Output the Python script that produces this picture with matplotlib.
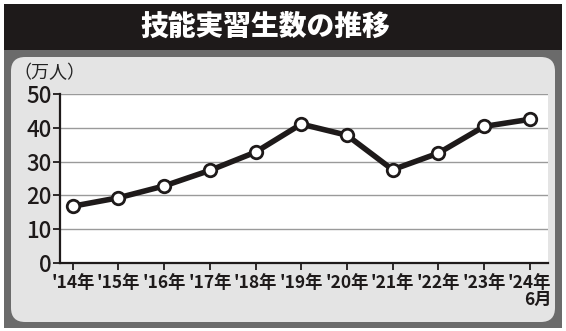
import matplotlib
matplotlib.use("Agg")
import matplotlib.pyplot as plt
from matplotlib.patches import Rectangle, FancyBboxPatch

plt.rcParams['font.family'] = ['Noto Sans CJK JP', 'DejaVu Sans']

# データ
years = ["'14年", "'15年", "'16年", "'17年", "'18年", "'19年",
         "'20年", "'21年", "'22年", "'23年", "'24年\n6月"]
values = [16.8, 19.3, 22.8, 27.4, 32.8, 41.1, 37.8, 27.6, 32.5, 40.4, 42.5]
yticks = [0, 10, 20, 30, 40, 50]

W, H = 566, 331
fig = plt.figure(figsize=(W / 100, H / 100), dpi=100)
fig.patch.set_facecolor('white')


def box(x0, y0, x1, y1):
    # pixel coords (top-left origin) -> figure fraction
    return x0 / W, 1 - y1 / H, (x1 - x0) / W, (y1 - y0) / H


# 外枠
x, y, w, h = box(4, 4, 562, 328)
fig.add_artist(Rectangle((x, y), w, h, transform=fig.transFigure,
                         facecolor='#6b6b6b', edgecolor='none', zorder=0))
x, y, w, h = box(4, 4, 562, 50)
fig.add_artist(Rectangle((x, y), w, h, transform=fig.transFigure,
                         facecolor='#1e1a1a', edgecolor='none', zorder=1))
x, y, w, h = box(11, 57, 555, 322)
fig.add_artist(FancyBboxPatch((x, y), w, h, transform=fig.transFigure,
                              boxstyle='round,pad=0,rounding_size=0.025',
                              facecolor='#e4e4e4', edgecolor='none', zorder=1,
                              mutation_aspect=W / H))

fig.text(0.468, 1 - 27 / H, '技能実習生数の推移', color='white', fontsize=20,
         fontweight='black', ha='center', va='center', zorder=3)

fig.text(13 / W, 1 - 73 / H, '（万人）', fontsize=13, ha='left', va='center',
         color='#222222', zorder=3)

ax = fig.add_axes([60 / W, 68 / H, 488 / W, 169 / H], zorder=2)
ax.set_facecolor('white')
xs = list(range(len(values)))
ax.plot(xs, values, color='#1e1a1a', lw=4, marker='o', ms=9,
        markerfacecolor='white', markeredgecolor='#1e1a1a', markeredgewidth=2,
        zorder=3, clip_on=False)

ax.set_ylim(0, 50)
ax.set_xlim(-0.28, 10.4)
ax.set_yticks(yticks)
ax.set_xticks(xs)
ax.set_xticklabels(years)
ax.grid(axis='y', color='#9a9a9a', lw=1)
ax.set_axisbelow(True)
for s in ['top', 'right']:
    ax.spines[s].set_visible(False)
for s in ['left', 'bottom']:
    ax.spines[s].set_color('#1e1a1a')
    ax.spines[s].set_linewidth(1.6)
ax.tick_params(axis='y', labelsize=16, length=5, width=1.3, pad=1,
               color='#1e1a1a', labelcolor='#1e1a1a')
ax.tick_params(axis='x', labelsize=12.5, length=5, width=1.3, pad=3,
               color='#1e1a1a', labelcolor='#1e1a1a')
for lab in ax.get_yticklabels():
    lab.set_fontweight('medium')
for lab in ax.get_xticklabels():
    lab.set_multialignment('right')
    lab.set_linespacing(0.9)
    lab.set_fontweight('bold')

fig.savefig('out.png', dpi=100, facecolor='white')
